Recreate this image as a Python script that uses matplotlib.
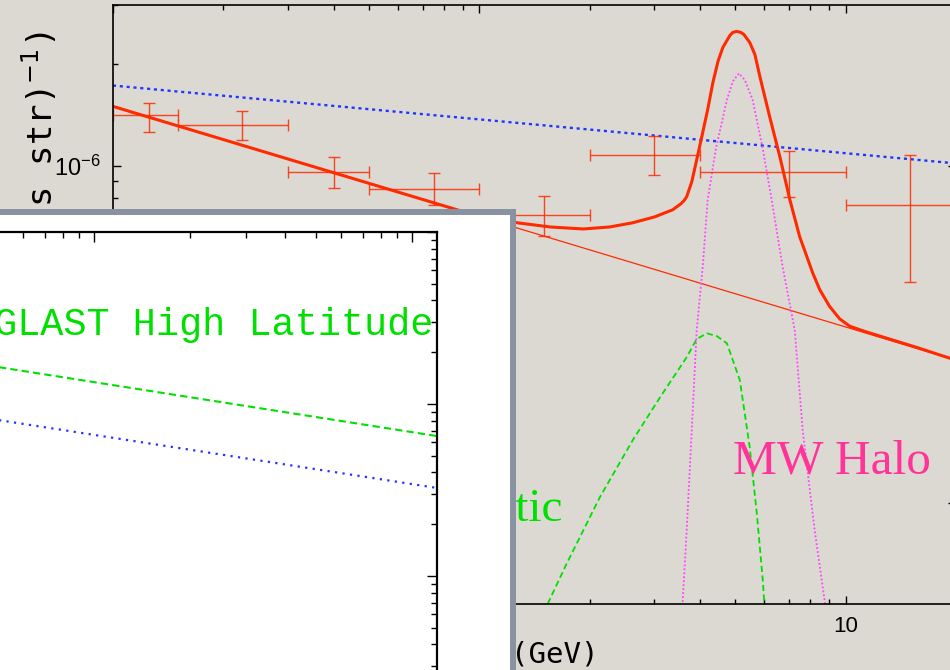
import numpy as np
import matplotlib
matplotlib.use("Agg")
import matplotlib.pyplot as plt
from matplotlib.patches import Rectangle
from matplotlib.ticker import NullFormatter, FuncFormatter

plt.rcParams['font.family'] = ['Liberation Sans', 'DejaVu Sans']

# ---------------- data ----------------
# data points: energy bins (GeV) and flux E^2 dN/dE
ebin_lo = [0.1, 0.15, 0.3, 0.5, 1.0, 2.0, 4.0, 10.0]
ebin_hi = [0.15, 0.3, 0.5, 1.0, 2.0, 4.0, 10.0, 20.0]
e_center = [0.125, 0.225, 0.4, 0.75, 1.5, 3.0, 7.0, 15.0]
flux = [1.41e-6, 1.32e-6, 0.96e-6, 0.854e-6, 0.715e-6, 1.078e-6, 0.955e-6, 0.764e-6]
flux_hi = [1.54e-6, 1.45e-6, 1.064e-6, 0.953e-6, 0.814e-6, 1.228e-6, 1.103e-6, 1.078e-6]
flux_lo = [1.26e-6, 1.195e-6, 0.86e-6, 0.765e-6, 0.619e-6, 0.936e-6, 0.807e-6, 0.451e-6]

# blue dotted line (main panel)
blue_x = [0.1, 20.0]
blue_y = [1.73e-6, 1.016e-6]

# thin red background power law
bg_x = [0.1, 20.0]
bg_y = [1.502e-6, 0.2646e-6]

# thick red total curve
total_x = [0.1, 0.607, 0.942, 1.27, 1.56, 1.92, 2.27, 2.62, 3.01, 3.37, 3.55, 3.62,
           3.68, 3.80, 3.92, 4.07, 4.20, 4.34, 4.48, 4.62, 4.83, 4.92, 5.04, 5.17,
           5.27, 5.47, 5.65, 5.83, 6.20, 6.61, 7.04, 7.49, 8.13, 8.50, 9.04, 9.63,
           10.25, 10.92, 11.4, 15.6, 20.0]
total_y = [1.50e-6, 0.832e-6, 0.721e-6, 0.677e-6, 0.658e-6, 0.649e-6, 0.658e-6,
           0.677e-6, 0.705e-6, 0.740e-6, 0.771e-6, 0.788e-6, 0.809e-6, 0.896e-6,
           1.042e-6, 1.254e-6, 1.468e-6, 1.766e-6, 2.04e-6, 2.245e-6, 2.437e-6,
           2.488e-6, 2.505e-6, 2.488e-6, 2.454e-6, 2.323e-6, 2.14e-6, 1.84e-6,
           1.399e-6, 1.064e-6, 0.792e-6, 0.615e-6, 0.480e-6, 0.428e-6, 0.382e-6,
           0.351e-6, 0.334e-6, 0.326e-6, 0.321e-6, 0.289e-6, 0.2646e-6]

# magenta dotted (MW Halo)
halo_x = [3.55, 3.59, 3.68, 3.80, 3.92, 4.07, 4.20, 4.42, 4.74, 4.92, 5.11, 5.30,
          5.57, 5.94, 6.28, 6.73, 7.26, 7.63, 8.23, 8.76, 8.93]
halo_y = [4.31e-8, 5.11e-8, 8.25e-8, 1.64e-7, 3.25e-7, 5.0e-7, 7.92e-7, 1.12e-6,
          1.57e-6, 1.78e-6, 1.88e-6, 1.80e-6, 1.57e-6, 1.12e-6, 7.92e-7, 5.0e-7,
          3.25e-7, 1.64e-7, 8.25e-8, 5.11e-8, 4.31e-8]

# green dashed (Galactic)
gal_x = [1.46, 1.73, 2.13, 2.62, 3.11, 3.68, 3.92, 4.18, 4.45, 4.74, 5.14, 5.47,
         5.72, 5.94, 6.05]
gal_y = [4.45e-8, 6.58e-8, 1.035e-7, 1.53e-7, 2.05e-7, 2.70e-7, 3.06e-7, 3.18e-7,
         3.12e-7, 2.97e-7, 2.31e-7, 1.46e-7, 9.27e-8, 5.86e-8, 4.31e-8]

# inset lines
inset_x = [0.5, 12.0]
glast_y = [1.64e-6, 0.651e-6]
egret_inset_y = [0.807e-6, 0.325e-6]

# ---------------- colours ----------------
BG = '#dcd9d3'
RED = '#ff2a00'
BLUE = '#1f35ff'
MAG = '#ff44ff'
GREEN = '#00e000'
PINK = '#ff3399'
FRAME = '#8892a0'

W, H = 950, 670
fig = plt.figure(figsize=(W / 100, H / 100), dpi=100, facecolor=BG)


def fx(px):
    return px / W


def fy(py):
    return 1 - py / H


# ---------------- main panel ----------------
ax = fig.add_axes([fx(113), fy(604), (956 - 113) / W, (604 - 5) / H])
ax.set_facecolor('none')
ax.set_xscale('log')
ax.set_yscale('log')
ax.set_xlim(0.1, 20)
ax.set_ylim(5e-8, 3e-6)

ax.plot(blue_x, blue_y, color=BLUE, lw=1.7, dashes=(1.3, 1.6), dash_capstyle='butt')
ax.plot(bg_x, bg_y, color=RED, lw=0.9)
ax.plot(gal_x, gal_y, color=GREEN, lw=1.3, dashes=(3.4, 1.9))
ax.plot(halo_x, halo_y, color=MAG, lw=1.3, dashes=(1.0, 1.2), dash_capstyle='butt')
ax.plot(total_x, total_y, color=RED, lw=2.2, solid_joinstyle='round')

fc = np.array(flux)
xc = np.array(e_center)
ax.errorbar(e_center, flux,
            xerr=[xc - np.array(ebin_lo), np.array(ebin_hi) - xc],
            yerr=[fc - np.array(flux_lo), np.array(flux_hi) - fc],
            fmt='none', ecolor=RED, elinewidth=1.0, capsize=4.5, capthick=1.0,
            alpha=0.85)

ax.text((733 - 113) / 843, (604 - 473) / 599, 'MW Halo', transform=ax.transAxes,
        ha='left', va='baseline', color=PINK, fontsize=35.5,
        family=['Liberation Serif', 'DejaVu Serif'])
ax.text((563 - 113) / 843, (604 - 521) / 599, 'Galactic', transform=ax.transAxes,
        ha='right', va='baseline', color=GREEN, fontsize=34,
        family=['Liberation Serif', 'DejaVu Serif'])

for s in ax.spines.values():
    s.set_linewidth(1.2)
ax.tick_params(which='both', direction='in', top=True, right=True, width=1, pad=9)
ax.tick_params(axis='x', labelsize=16)
ax.tick_params(axis='y', labelsize=17)
ax.tick_params(which='major', length=6)
ax.tick_params(which='minor', length=3.5)
ax.xaxis.set_major_formatter(FuncFormatter(lambda v, p: f'{v:g}'))
ax.xaxis.set_minor_formatter(NullFormatter())
ax.yaxis.set_minor_formatter(NullFormatter())

# axis labels (partially hidden by the inset)
fig.text(fx(60), fy(32), 'E$^2$ dN/dE (GeV (cm$^2$ s str)$^{-1}$)', rotation=90,
         ha='right', va='top', fontsize=24.5,
         family=['DejaVu Sans Mono'], zorder=0.5)
fig.text(fx(598), fy(663), 'E (GeV)', ha='right', va='baseline', fontsize=21,
         family=['DejaVu Sans Mono'], zorder=0.5)

# ---------------- inset frame ----------------
frame = Rectangle((fx(-20), fy(700)), (513 + 20) / W, (700 - 212) / H,
                  transform=fig.transFigure, facecolor='white', edgecolor=FRAME,
                  linewidth=4.3, zorder=1.5)
fig.add_artist(frame)

# ---------------- inset panel ----------------
left_px = 437 - 318 * np.log10(120)
ins = fig.add_axes([fx(left_px), fy(748), (437 - left_px) / W, (748 - 232) / H])
ins.set_zorder(2)
ins.set_facecolor('white')
ins.set_xscale('log')
ins.set_yscale('log')
ins.set_xlim(0.1, 12)
ins.set_ylim(1e-8, 1e-5)
ins.plot(inset_x, glast_y, color=GREEN, lw=1.5, dashes=(3.5, 2.0))
ins.plot(inset_x, egret_inset_y, color=BLUE, lw=1.6, dashes=(1.0, 2.4),
         dash_capstyle='butt')
ins.text((433 - left_px) / (437 - left_px), (748 - 335) / (748 - 232),
         'GLAST High Latitude', transform=ins.transAxes, ha='right',
         va='baseline', color=GREEN, fontsize=27.8,
         family=['Liberation Mono', 'DejaVu Sans Mono'])
for s in ins.spines.values():
    s.set_linewidth(1.6)
ins.tick_params(which='both', direction='in', top=True, right=True, width=1,
                labelbottom=False, labelleft=False)
ins.tick_params(which='major', length=7.5)
ins.tick_params(which='minor', length=4)
ins.xaxis.set_minor_formatter(NullFormatter())
ins.yaxis.set_minor_formatter(NullFormatter())

fig.savefig('out.png', dpi=100, facecolor=BG)
